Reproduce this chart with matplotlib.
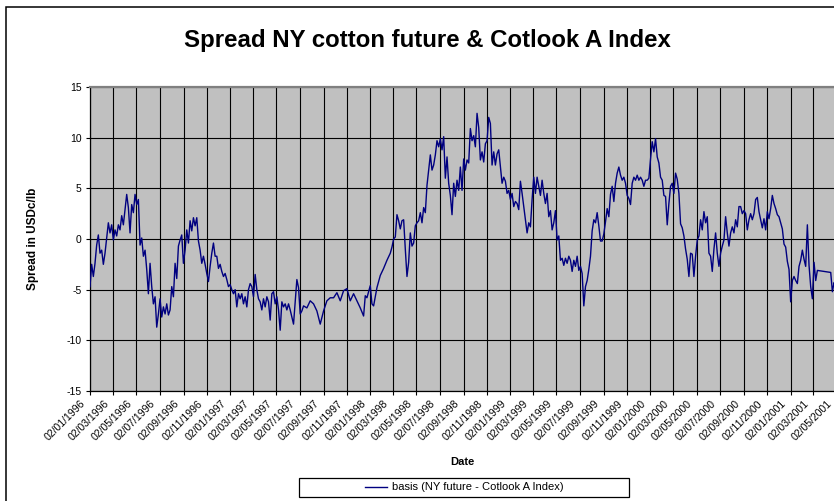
import numpy as np
import pandas as pd
import matplotlib
matplotlib.use("Agg")
import matplotlib.pyplot as plt
import matplotlib.transforms as mtransforms
from matplotlib.patches import Rectangle

plt.rcParams['font.family'] = ['Liberation Sans', 'DejaVu Sans']
plt.rcParams['axes.unicode_minus'] = False

title = "Spread NY cotton future & Cotlook A Index"
series_label = "basis (NY future - Cotlook A Index)"
y_label = "Spread in USDc/lb"
x_label = "Date"

start_date = "1996-01-02"
step_hours = 104.4          # spacing of the readings (~4.35 days)
axis_start = "1996-01-02"
axis_end = "2001-05-02"
y_ticks = [-15, -10, -5, 0, 5, 10, 15]

# spread readings (USDc/lb); None = no observation (line joins neighbours)
basis = [
    -4.7, -2.5, -3.7, -2.4, -0.6, 0.4, -1.4, -1.1, -2.5, -1.4,
    0.1, 1.6, 0.6, 1.4, -0.1, 0.9, 0.3, 1.4, 0.9, 2.3,
    1.4, 2.9, 4.4, 3.1, 0.6, 3.4, 2.6, 4.4, 3.4, 3.9,
    -0.6, 0.1, -1.7, -1.1, -3.0, -5.4, -2.4, -4.7, -6.4, -5.7,
    -8.7, -7.4, -5.9, -7.7, -6.7, -7.4, -6.4, -7.5, -7.0, -4.7,
    -5.7, -2.4, -3.9, -0.7, -0.1, 0.4, -2.4, -1.1, 0.9, -0.4,
    1.8, 0.8, 2.1, 1.3, 2.1, -0.2, -1.1, -2.4, -1.7, -2.5,
    -3.4, -4.2, -2.7, -1.4, -0.4, -1.7, -1.7, -2.9, -2.5, -3.2,
    -3.7, -3.4, -4.0, -4.7, -4.5, -5.0, -5.4, -5.0, -6.7, -5.4,
    -5.9, -5.4, -6.4, -5.7, -6.7, -5.0, -4.4, -4.7, -5.7, -3.5,
    -5.0, -5.9, -6.2, -7.0, -5.9, -6.7, -5.7, -6.2, -8.0, -5.4,
    -5.2, -6.4, -5.7, -7.0, -9.0, -6.2, -6.7, -6.4, -7.0, -6.4,
    -7.0, None, -8.4, None, -4.0, -4.8, -7.4, -7.1, -6.6, None,
    -6.8, None, -6.1, None, -6.4, None, -7.1, None, -8.4, None,
    -7.1, None, -6.1, None, -5.8, None, -5.8, None, -5.3, None,
    -6.1, None, -5.1, None, -4.9, None, -6.1, None, -5.4, None,
    -6.1, None, -6.8, None, -7.6, -5.6, -5.8, None, -4.6, -6.4,
    -6.6, None, -4.8, None, -3.6, None, -2.9, None, -2.1, None,
    -1.4, -0.8, 0.0, 0.2, 2.4, 1.8, 1.0, 1.8, 1.9, -1.0,
    -3.7, -2.3, 0.6, -0.7, -0.4, 1.3, 1.6, 1.8, 2.6, 1.6,
    3.1, 2.6, 5.3, 6.8, 8.3, 6.8, 7.3, 8.3, 9.7, 9.1,
    9.9, 8.8, 10.1, 6.0, 8.1, 5.5, 4.3, 2.4, 5.5, 4.2,
    5.8, 4.8, 7.1, 4.8, 7.9, 6.8, 7.8, 7.5, 10.9, 9.7,
    10.2, 9.1, 12.4, 11.0, 7.8, 8.6, 7.6, 9.4, 9.7, 12.0,
    11.4, 7.3, 8.6, 7.3, 8.4, 8.8, 7.1, 5.5, 6.1, 5.7,
    4.5, 4.8, 3.9, 4.5, 3.2, 3.7, 3.5, 2.9, 5.7, 4.5,
    3.2, 1.9, 0.6, 1.6, 1.2, 3.9, 6.1, 4.5, 6.1, 5.2,
    4.3, 5.8, 4.5, 3.5, 4.5, 2.2, 2.8, 0.9, 1.6, 2.8,
    -0.1, 0.3, -2.1, -1.9, -2.6, -1.9, -2.4, -1.7, -2.1, -3.2,
    -2.1, -2.7, -1.7, -3.1, -2.7, -3.4, -6.6, -4.7, -4.1, -3.0,
    -1.7, 0.8, 1.9, 1.6, 2.6, 1.3, -0.2, -0.2, 0.5, 1.7,
    3.0, 2.2, 4.4, 5.2, 3.7, 5.5, 6.5, 7.1, 6.3, 5.8,
    6.1, 5.5, 4.3, 4.0, 3.4, 5.5, 6.1, 5.8, 6.3, 5.8,
    6.1, 5.8, 5.2, 5.8, 5.8, 6.0, 7.9, 9.6, 8.6, 9.9,
    8.1, 7.5, 6.1, 5.8, 4.3, 4.2, 1.4, 3.5, 5.2, 5.5,
    4.5, 6.5, 5.9, 4.5, 1.5, 1.1, 0.3, -1.0, -2.0, -3.7,
    -1.4, -1.5, -3.7, -1.7, -0.1, 0.3, 1.9, 0.9, 2.7, 1.6,
    2.2, -1.4, -1.7, -3.2, -1.0, 0.6, -1.4, -2.7, -1.4, -0.7,
    -0.1, 2.2, 0.6, -0.7, 0.6, 1.2, 0.6, 1.9, 1.2, 3.2,
    3.2, 2.5, 2.8, 2.5, 0.9, 1.9, 2.5, 1.9, 2.5, 3.9,
    4.1, 2.7, 1.9, 1.1, 2.0, 0.9, 2.7, 2.0, 3.0, 4.3,
    3.5, 3.0, 2.4, 2.2, 1.6, 1.0, -0.5, -0.8, -2.2, -3.0,
    -6.2, -4.1, -3.7, -4.1, -4.4, -2.7, -2.1, -1.1, -2.0, -2.7,
    1.4, -2.6, -4.7, -5.9, -2.3, -4.1, -3.1, None, None, None,
    None, None, None, None, -3.3, -5.2, -4.3, -4.6,
]

dates = pd.date_range(start_date, periods=len(basis), freq=pd.Timedelta(hours=step_hours))
vals = np.array([np.nan if v is None else v for v in basis], dtype=float)
mask = ~np.isnan(vals)
tick_dates = pd.date_range(axis_start, axis_end, freq=pd.DateOffset(months=2))

W, H = 834, 501
fig = plt.figure(figsize=(W / 100, H / 100), dpi=100)
fig.patch.set_facecolor('white')

# chart-area border (cropped on the right and bottom like the reference)
fig.add_artist(Rectangle((6 / W, -0.2), 1.5, 1.2 - 7 / H, transform=fig.transFigure,
                         fill=False, ec='black', lw=1.1, clip_on=False))

ax = fig.add_axes([90 / W, 1 - 391 / H, 746.7 / W, 304 / H])
ax.set_facecolor('#C0C0C0')

line, = ax.plot(dates[mask], vals[mask], color='#000080', lw=1.0, zorder=3)

ax.set_xlim(pd.Timestamp(axis_start), pd.Timestamp(axis_end))
ax.set_ylim(-15, 15)
ax.set_yticks(y_ticks)
ax.set_xticks(tick_dates)
ax.set_xticklabels([d.strftime('%d/%m/%Y') for d in tick_dates])
ax.grid(True, color='black', lw=0.8, zorder=1)
ax.set_axisbelow(True)

for s in ['top', 'right']:
    ax.spines[s].set_color('#808080')
    ax.spines[s].set_linewidth(1.6)
for s in ['left', 'bottom']:
    ax.spines[s].set_color('black')
    ax.spines[s].set_linewidth(0.9)

ax.tick_params(axis='both', direction='out', length=3, width=0.8, labelsize=7.5, color='black')
ax.tick_params(axis='y', pad=3)
ax.tick_params(axis='x', pad=5)
shift = mtransforms.ScaledTranslation(-6 / 100, 0, fig.dpi_scale_trans)
for lab in ax.get_xticklabels():
    lab.set_rotation(45)
    lab.set_ha('right')
    lab.set_va('center')
    lab.set_rotation_mode('anchor')
    lab.set_transform(lab.get_transform() + shift)

fig.text(427 / W, 1 - 41 / H, title, ha='center', va='center', fontsize=17.3, weight='bold')
fig.text(33 / W, 1 - 239 / H, y_label, ha='center', va='center', rotation=90,
         fontsize=8.5, weight='bold')
fig.text(462 / W, 1 - 462 / H, x_label, ha='center', va='center', fontsize=8, weight='bold')

# legend box
fig.add_artist(Rectangle((299 / W, 1 - 497 / H), 330 / W, 19 / H, transform=fig.transFigure,
                         fill=False, ec='black', lw=0.9))
fig.legend(handles=[line], labels=[series_label], loc='center',
           bbox_to_anchor=(464 / W, 1 - 487.5 / H), frameon=False, fontsize=8,
           handlelength=2.0, handletextpad=0.4, borderpad=0.2)

fig.savefig('out.png', dpi=100)
